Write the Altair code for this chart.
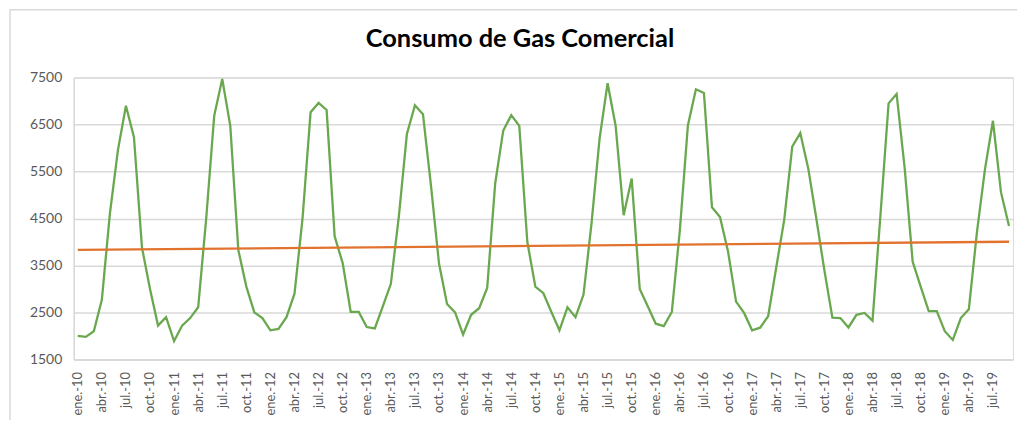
import altair as alt
import pandas as pd

MONTHS = ["ene.", "feb.", "mar.", "abr.", "may.", "jun.",
          "jul.", "ago.", "sep.", "oct.", "nov.", "dic."]
YEARS = [10, 11, 12, 13, 14, 15, 16, 17, 18, 19]
periods = [f"{m}-{y}" for y in YEARS for m in MONTHS][:117]

consumo = [
    2000, 1980, 2100, 2770, 4600, 5950, 6900, 6230, 3880, 3000, 2220, 2400,
    1890, 2220, 2380, 2610, 4500, 6690, 7470, 6470, 3830, 3050, 2500, 2380,
    2120, 2150, 2400, 2900, 4500, 6760, 6960, 6810, 4120, 3550, 2510, 2510,
    2190, 2160, 2630, 3110, 4550, 6300, 6910, 6720, 5200, 3540, 2680, 2500,
    2030, 2450, 2590, 3020, 5250, 6370, 6700, 6470, 4000, 3050, 2910, 2510,
    2120, 2610, 2400, 2880, 4400, 6200, 7380, 6475, 4570, 5350, 3000, 2630,
    2260, 2210, 2510, 4250, 6480, 7250, 7170, 4740, 4530, 3800, 2730, 2490,
    2120, 2175, 2420, 3450, 4470, 6030, 6320, 5560, 4500, 3400, 2390, 2380,
    2180, 2450, 2490, 2325, 4600, 6950, 7150, 5580, 3580, 3050, 2530, 2530,
    2100, 1915, 2380, 2570, 4200, 5540, 6580, 5060, 4340,
]

trend_periods = [periods[0], periods[-1]]
trend_values = [3830, 4005]

y_ticks = [1500, 2500, 3500, 4500, 5500, 6500, 7500]
x_tick_labels = periods[::3]

TITLE = "Consumo de Gas Comercial"
FONT = "Lato"
LABEL_COLOR = "#595959"
GRID_COLOR = "#d9d9d9"

df = pd.DataFrame({"periodo": periods, "consumo": consumo})
tr = pd.DataFrame({"periodo": trend_periods, "valor": trend_values})
title_df = pd.DataFrame({"t": [TITLE]})

x_enc = alt.X(
    "periodo:O",
    sort=periods,
    scale=alt.Scale(domain=periods),
    title=None,
    axis=alt.Axis(
        values=x_tick_labels,
        labelAngle=-90,
        ticks=False,
        labelPadding=12,
        labelFont=FONT,
        labelFontSize=13,
        labelColor=LABEL_COLOR,
        domain=True,
        domainColor=GRID_COLOR,
        domainWidth=1.5,
        grid=False,
    ),
)

y_scale = alt.Scale(domain=[1500, 7500], nice=False, zero=False)

border = alt.Chart(pd.DataFrame({"k": [0]})).mark_rect(
    fill="transparent", stroke=GRID_COLOR, strokeWidth=1.5
).encode(
    x=alt.value(-64), x2=alt.value(1100), y=alt.value(-68), y2=alt.value(600)
)

title = alt.Chart(title_df).mark_text(
    font=FONT, fontSize=25.5, fontWeight="bold", color="#000000",
    align="center", baseline="middle"
).encode(
    x=alt.value(448), y=alt.value(-39), text="t:N"
)

green = alt.Chart(df).mark_line(color="#6aa84f", strokeWidth=2.3).encode(
    x=x_enc,
    y=alt.Y(
        "consumo:Q",
        scale=y_scale,
        title=None,
        axis=alt.Axis(
            values=y_ticks,
            format="d",
            ticks=False,
            labelPadding=12,
            labelFont=FONT,
            labelFontSize=14,
            labelColor=LABEL_COLOR,
            grid=True,
            gridColor=GRID_COLOR,
            gridWidth=1.5,
            domain=True,
            domainColor=GRID_COLOR,
            domainWidth=1.5,
        ),
    ),
)

orange = alt.Chart(tr).mark_line(color="#e2732f", strokeWidth=2.3).encode(
    x=alt.X("periodo:O", sort=periods, scale=alt.Scale(domain=periods)),
    y=alt.Y("valor:Q", scale=y_scale),
)

chart = alt.layer(border, title, green, orange).properties(
    width=943,
    height=283,
    padding={"left": 66, "top": 69, "right": 4, "bottom": 60},
    autosize=alt.AutoSizeParams(type="none"),
).configure_view(stroke=None).configure(background="white")

chart.save("out.html", embed_options={"renderer": "svg", "actions": False})
